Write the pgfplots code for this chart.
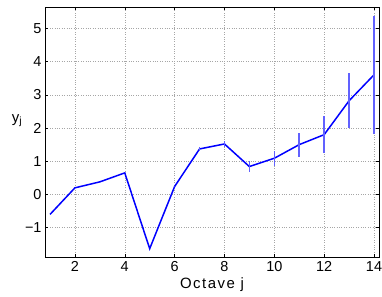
\documentclass[border=0pt]{standalone}
\usepackage{pgfplots}
\pgfplotsset{compat=1.18}
\usepackage{fontspec}
\setmainfont{Liberation Sans}
\newfontfamily\labelfont[LetterSpace=10]{Liberation Sans}
\definecolor{mblue}{rgb}{0,0,1}
\definecolor{eblue}{rgb}{0.38,0.38,1}
\begin{document}
\begin{tikzpicture}
\begin{axis}[
  name=ax,
  scale only axis,
  width=334bp, height=250bp,
  xmin=0.8, xmax=14.2,
  ymin=-1.88, ymax=5.64,
  xtick={2,4,...,14},
  ytick={-1,0,1,2,3,4,5},
  yticklabels={−1,0,1,2,3,4,5},
  tick align=inside,
  major tick length=3bp,
  grid=major,
  major grid style={dotted, gray!70, line width=0.5pt},
  axis line style={black, line width=0.8pt},
  every tick/.style={black, line width=0.5pt},
  /pgf/number format/assume math mode=true,
  tick label style={font=\fontsize{14.5}{16}\selectfont},
  xticklabel style={yshift=-1bp},
  yticklabel style={xshift=0bp},
  xlabel={Octave j},
  xlabel style={font=\labelfont\fontsize{15}{17}\selectfont, at={(rel axis cs:0.5,0)}, anchor=center, yshift=-28bp},
  ylabel={y\textsubscript{j}},
  ylabel style={font=\labelfont\fontsize{15}{17}\selectfont, rotate=-90, at={(rel axis cs:0,0.545)}, anchor=center, xshift=-28bp},
]
\addplot[mblue, line width=1.5pt, forget plot] coordinates {
(1,-0.6) (2,0.2) (3,0.38) (4,0.65) (5,-1.63) (6,0.24)
};
\addplot[mblue, line width=1.5pt,
  error bars/.cd, y dir=both, y explicit, error mark=none,
  error bar style={eblue, line width=1.6pt}]
  coordinates {
(6,0.24) +- (0,0)
(7,1.37) +- (0,0.05)
(8,1.52) +- (0,0.08)
(9,0.84) +- (0,0.16)
(10,1.09) +- (0,0.23)
(11,1.5) +- (0,0.36)
(12,1.8) +- (0,0.55)
(13,2.82) +- (0,0.83)
(14,3.6) +- (0,1.77)
};
\end{axis}
\pgfresetboundingbox
\path ([shift={(-45bp,-40bp)}]ax.south west) rectangle ([shift={(3bp,7bp)}]ax.north east);
\end{tikzpicture}
\end{document}
